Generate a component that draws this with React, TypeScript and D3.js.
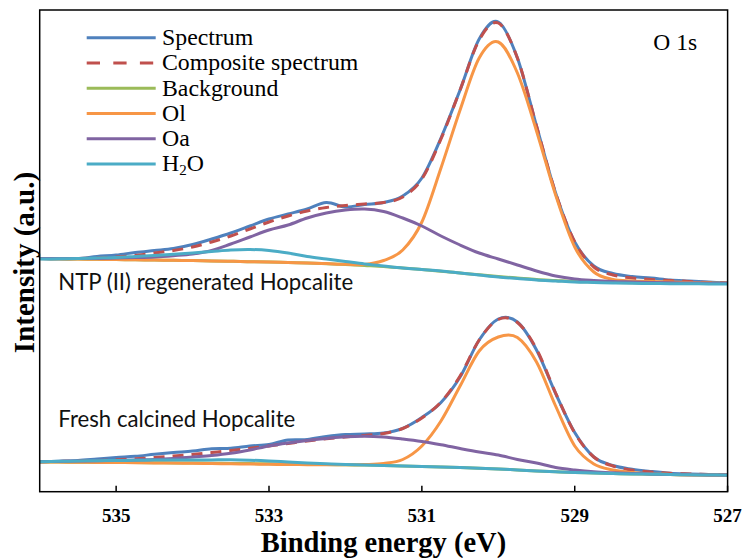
import React from "react";
import * as d3 from "d3";

// binding energy grid (eV), read every 0.25 eV
const energy = [
  536, 535.75, 535.5, 535.25, 535, 534.75, 534.5, 534.25, 534, 533.75, 533.5, 533.25,
  533, 532.75, 532.5, 532.25, 532, 531.75, 531.5, 531.25, 531, 530.75, 530.5, 530.25,
  530, 529.75, 529.5, 529.25, 529, 528.75, 528.5, 528.25, 528, 527.75, 527.5, 527.25, 527,
];

const xTicks = [535, 533, 531, 529, 527];
const seriesNames = ["Spectrum", "Composite spectrum", "Background", "Ol", "Oa", "H2O"];
const seriesColors = ["#4F81BD", "#C0504D", "#9BBB59", "#F79646", "#8064A2", "#4BACC6"];
const panelLabels = ["NTP (II) regenerated Hopcalite", "Fresh calcined Hopcalite"];

// NTP (II) regenerated Hopcalite (upper trace, offset)
const ntpSpectrum = [
  233.5, 233, 233.5, 235.5, 237, 239.5, 241.5, 243.5, 247.5, 253, 259, 266,
  273, 278, 283, 289.5, 285, 287.5, 289.5, 296, 314, 354, 402, 453,
  470, 434, 366, 299, 250, 226, 218.5, 215.5, 214, 212, 211, 210, 209,
];
const ntpComposite = [
  233.5, 233.5, 233.5, 234, 235, 236.5, 239, 241.5, 245, 250, 256, 263,
  270, 276, 281, 284.5, 286.5, 288, 289.5, 295, 313, 353, 402, 452,
  469, 434, 366, 299, 250, 225, 217, 214, 212.5, 211.5, 210.5, 209.5, 209,
];
const ntpBackground = [
  233.5, 233.2, 233, 232.7, 232.5, 232.2, 232, 231.7, 231.5, 231, 230.7, 230.3,
  230, 229.5, 229, 228.3, 227.5, 226.5, 225.5, 224, 222.5, 220.8, 219, 217.2,
  215.5, 214, 212.5, 211.5, 210.5, 210, 209.5, 209.2, 209, 208.9, 208.8, 208.7, 208.5,
];
const ntpOl = [
  233.5, 233.2, 233, 232.7, 232.5, 232.2, 232, 231.7, 231.5, 231, 230.7, 230.3,
  230, 229.5, 229, 228.4, 227.7, 227.5, 231.5, 242, 270, 324, 382, 434,
  450, 419, 361, 297, 245, 220, 212.5, 211, 210.5, 210, 209.5, 209, 208.5,
];
const ntpOa = [
  233.5, 233.4, 233.4, 233.6, 234, 234.4, 235, 236.3, 238, 241.5, 248, 255,
  262, 267, 274, 279, 282, 283, 280.5, 274, 266, 256, 247, 239,
  233, 227, 221, 216, 213, 211.5, 210.5, 210, 209.5, 209.2, 209, 208.8, 208.5,
];
const ntpH2O = [
  233, 233.2, 233.5, 234, 234.5, 235.5, 236.5, 237.7, 239, 240.5, 242, 242.5,
  241.5, 239, 235.5, 233, 230.5, 228, 226, 224, 222.5, 221, 219, 217,
  215, 213.5, 212, 211, 210, 209.5, 209, 208.7, 208.5, 208.3, 208.2, 208.1, 208,
];

// Fresh calcined Hopcalite (lower trace)
const freshSpectrum = [
  30.3, 30.8, 31.5, 33, 34.5, 35.7, 37.7, 39.5, 41, 43.3, 43.7, 46,
  47.5, 52, 52.5, 55.5, 57.5, 58, 59, 63.7, 74.5, 89.5, 115, 152,
  173, 170, 142, 98.5, 59.5, 35, 26.5, 22.8, 20.5, 18.7, 18, 17.5, 17,
];
const freshComposite = [
  30.3, 30.6, 31, 31.5, 32.2, 33.2, 34.5, 36, 37.5, 39.5, 41.5, 43.7,
  46, 48.5, 51, 53.2, 55, 56.5, 58.5, 63.5, 74, 90, 116, 152,
  172.5, 169.5, 143, 99, 59, 35, 26, 22, 20, 18.7, 18, 17.5, 17,
];
const freshBackground = [
  30, 29.9, 29.8, 29.6, 29.5, 29.4, 29.2, 29.1, 29, 28.8, 28.6, 28.4,
  28.2, 28, 27.7, 27.5, 27.2, 26.9, 26.5, 26, 25.5, 25, 24.5, 23.8,
  23, 22, 21, 20.2, 19.5, 19, 18.5, 18.1, 17.8, 17.5, 17.2, 17, 16.8,
];
const freshOl = [
  30, 29.9, 29.7, 29.6, 29.5, 29.3, 29.1, 28.9, 28.7, 28.5, 28.2, 28,
  27.7, 27.5, 27.3, 27.2, 27.2, 27.5, 28.5, 32.5, 46, 71, 106, 141,
  155, 154.5, 130, 86, 46, 28, 22, 19.5, 18, 17.5, 17, 16.8, 16.5,
];
const freshOa = [
  30.3, 30.6, 31, 31.2, 31.5, 32, 32.5, 33.5, 35, 36.5, 38.7, 42,
  46, 49, 51.5, 53.5, 55.2, 55.8, 55, 53, 50.5, 47.2, 43.5, 40,
  37, 32.5, 29, 24.5, 22, 20.2, 19.2, 18.5, 18, 17.6, 17.3, 17.1, 17,
];
const freshH2O = [
  30.3, 30.7, 31, 31.3, 31.5, 31.7, 31.9, 32, 32, 32.1, 32.2, 31.8,
  31, 30, 29, 28.2, 27.5, 27, 26.5, 26, 25.5, 25, 24.5, 23.8,
  23, 22, 21, 20.2, 19.5, 19, 18.5, 18.1, 17.8, 17.5, 17.2, 17, 16.8,
];

const panels = [
  [ntpSpectrum, ntpComposite, ntpBackground, ntpOl, ntpOa, ntpH2O],
  [freshSpectrum, freshComposite, freshBackground, freshOl, freshOa, freshH2O],
];

const serif = "'Liberation Serif', 'Times New Roman', serif";
const sans = "Lato, 'Open Sans', sans-serif";

export default function App() {
  const plot = { left: 39.7, right: 727.6, top: 10, bottom: 491.7 };

  const x = d3.scaleLinear().domain([536, 527]).range([plot.left, plot.right]);
  const y = d3.scaleLinear().domain([0, 482]).range([492, 10]);

  const line = d3
    .line<number>()
    .x((_, i) => x(energy[i]))
    .y((d) => y(d))
    .curve(d3.curveCardinal.tension(0));

  const dash = "11,8";

  return (
    <svg
      width={745}
      height={558}
      style={{ position: "absolute", left: 0, top: 0, background: "#fff" }}
    >
      <rect x={0} y={0} width={745} height={558} fill="#fff" />

      {panels.map((series, p) => (
        <g key={p}>
          {series.map((vals, s) => (
            <path
              key={s}
              d={line(vals) || ""}
              fill="none"
              stroke={seriesColors[s]}
              strokeWidth={3}
              strokeDasharray={s === 1 ? dash : undefined}
              strokeLinejoin="round"
            />
          ))}
        </g>
      ))}

      {/* frame */}
      <rect
        x={plot.left}
        y={plot.top}
        width={plot.right - plot.left}
        height={plot.bottom - plot.top}
        fill="none"
        stroke="#000"
        strokeWidth={1.5}
      />

      {/* x ticks */}
      {xTicks.map((t) => (
        <g key={t}>
          <line x1={x(t)} x2={x(t)} y1={plot.bottom} y2={plot.bottom - 6} stroke="#000" strokeWidth={1.5} />
          <text
            x={x(t)}
            y={521.5}
            textAnchor="middle"
            fontFamily={serif}
            fontWeight="bold"
            fontSize={19}
          >
            {t}
          </text>
        </g>
      ))}

      <text x={383.5} y={551.5} textAnchor="middle" fontFamily={serif} fontWeight="bold" fontSize={28.5}>
        Binding energy (eV)
      </text>
      <text
        transform="translate(33.5,262.5) rotate(-90)"
        textAnchor="middle"
        fontFamily={serif}
        fontWeight="bold"
        fontSize={29}
      >
        Intensity (a.u.)
      </text>

      <text x={653.3} y={50} fontFamily={serif} fontSize={23.5}>
        O 1s
      </text>

      <text x={58.3} y={290} fontFamily={sans} fontSize={22.2} fill="#111">
        {panelLabels[0]}
      </text>
      <text x={58.3} y={426.7} fontFamily={sans} fontSize={22.2} fill="#111">
        {panelLabels[1]}
      </text>

      {/* legend */}
      {seriesNames.map((name, i) => {
        const ly = 37.7 + i * 25.25;
        return (
          <g key={name}>
            <line
              x1={86.7}
              x2={155.7}
              y1={ly}
              y2={ly}
              stroke={seriesColors[i]}
              strokeWidth={3}
              strokeDasharray={i === 1 ? "13.3,13.3" : undefined}
            />
            <text x={162} y={ly + 7.5} fontFamily={serif} fontSize={23.8}>
              {name === "H2O" ? (
                <>
                  H<tspan fontSize={15} dy={4}>2</tspan>
                  <tspan dy={-4}>O</tspan>
                </>
              ) : (
                name
              )}
            </text>
          </g>
        );
      })}
    </svg>
  );
}
